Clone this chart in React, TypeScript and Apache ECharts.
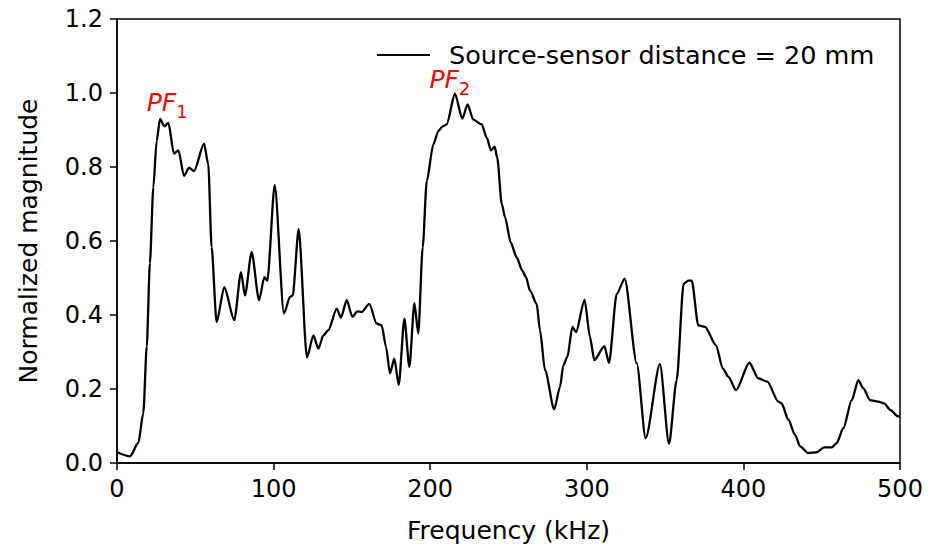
import React, { useEffect, useRef } from "react";
import * as echarts from "echarts";

const frequency: number[] = [
  0, 8.3, 13.6, 16.8, 19, 21, 23.2, 25.3, 27.5, 30.2, 32.8, 36.4, 39.2, 42.8, 46, 49.2, 55.6, 58.3, 60.4, 63.6,
  68.5, 74.9, 79.2, 81.7, 86, 90.7, 94.1, 96, 100.7, 106.6, 110.5, 112.2, 116, 121.3, 125.4, 128.6, 131.8, 135,
  140.3, 143, 146.7, 150.3, 153.5, 156.3, 161.1, 165.8, 169, 171.8, 174.3, 177.1, 179.9, 183.5, 186.7, 189.9,
  192.4, 195.2, 197.8, 202, 205.2, 208, 210.5, 215.8, 220.5, 223.9, 227.5, 232.9, 236.1, 238.8, 241.2, 242.8,
  245.7, 247.8, 251.4, 255.2, 258.8, 261.2, 263.7, 268, 270.1, 273.3, 279.2, 282.9, 285, 287.6, 290.8, 293.1,
  298.6, 302, 304.8, 311.2, 314.2, 319.1, 324.2, 331.9, 337.6, 346.7, 352.5, 357.4, 361.8, 364.8, 367, 371.2,
  375.5, 382.5, 386.8, 390.4, 395.3, 403.8, 409.5, 415.3, 422.3, 424.4, 428.7, 433, 436.2, 441.4, 446.8, 451.5,
  456.4, 459.6, 463.8, 469.2, 473.4, 476.6, 480.8, 486.1, 489.8, 494, 498.3, 500,
];

const magnitude: number[] = [
  0.029, 0.018, 0.054, 0.135, 0.315, 0.54, 0.745, 0.87, 0.93, 0.91, 0.919, 0.836, 0.845, 0.776, 0.798, 0.789,
  0.863, 0.807, 0.584, 0.381, 0.475, 0.386, 0.516, 0.453, 0.57, 0.44, 0.502, 0.493, 0.751, 0.404, 0.449, 0.453,
  0.632, 0.285, 0.345, 0.309, 0.345, 0.359, 0.417, 0.393, 0.44, 0.395, 0.41, 0.408, 0.43, 0.377, 0.372, 0.314,
  0.242, 0.282, 0.211, 0.39, 0.26, 0.432, 0.35, 0.583, 0.762, 0.861, 0.897, 0.91, 0.915, 0.998, 0.931, 0.969,
  0.928, 0.915, 0.879, 0.845, 0.855, 0.825, 0.7, 0.664, 0.596, 0.556, 0.52, 0.502, 0.466, 0.43, 0.359, 0.251,
  0.145, 0.206, 0.264, 0.287, 0.368, 0.354, 0.441, 0.341, 0.278, 0.316, 0.271, 0.457, 0.498, 0.269, 0.067,
  0.267, 0.052, 0.224, 0.484, 0.493, 0.493, 0.372, 0.368, 0.318, 0.256, 0.233, 0.197, 0.271, 0.229, 0.22, 0.166,
  0.161, 0.117, 0.076, 0.045, 0.027, 0.029, 0.042, 0.042, 0.054, 0.094, 0.17, 0.224, 0.202, 0.17, 0.166, 0.161,
  0.143, 0.127, 0.125,
];

const seriesName = "Source-sensor distance = 20 mm";
const peakLabels = [
  { sub: "1", freq: 19, mag: 0.974 },
  { sub: "2", freq: 199.5, mag: 1.036 },
];

const FONT = "DejaVu Sans";
const FS = 25;
const TICK_FS = 24;

export default function App() {
  const ref = useRef<HTMLDivElement>(null);
  useEffect(() => {
    if (!ref.current) return;
    const chart = echarts.init(ref.current, null, { renderer: "svg" });
    const data = frequency.map((f, i) => [f, magnitude[i]]);
    chart.setOption({
      animation: false,
      backgroundColor: "#ffffff",
      textStyle: { fontFamily: FONT },
      grid: {
        left: 117,
        right: 31,
        top: 19,
        bottom: 83,
        show: true,
        borderColor: "#000",
        borderWidth: 1.5,
        containLabel: false,
      },
      legend: {
        left: 372,
        top: 37,
        data: [seriesName],
        icon: "rect",
        itemWidth: 53,
        itemHeight: 2,
        textStyle: { fontFamily: FONT, fontSize: 25.5, color: "#000", padding: [0, 0, 0, 14] },
      },
      xAxis: {
        type: "value",
        min: 0,
        max: 500,
        interval: 100,
        name: "Frequency (kHz)",
        nameLocation: "middle",
        nameGap: 55,
        nameTextStyle: { fontFamily: FONT, fontSize: FS, color: "#000" },
        axisLine: { show: true, onZero: false, lineStyle: { color: "#000", width: 1.5 } },
        axisTick: { show: true, inside: false, length: 7, lineStyle: { color: "#000", width: 1.5 } },
        axisLabel: { fontFamily: FONT, fontSize: TICK_FS, color: "#000", margin: 14 },
        splitLine: { show: false },
      },
      yAxis: {
        type: "value",
        min: 0,
        max: 1.2,
        interval: 0.2,
        name: "Normalized magnitude",
        nameLocation: "middle",
        nameGap: 76,
        nameTextStyle: { fontFamily: FONT, fontSize: FS, color: "#000" },
        axisLine: { show: true, lineStyle: { color: "#000", width: 1.5 } },
        axisTick: { show: true, inside: false, length: 7, lineStyle: { color: "#000", width: 1.5 } },
        axisLabel: {
          fontFamily: FONT,
          fontSize: TICK_FS,
          color: "#000",
          margin: 14,
          formatter: (v: number) => v.toFixed(1),
        },
        splitLine: { show: false },
      },
      series: [
        {
          name: seriesName,
          type: "line",
          data,
          showSymbol: false,
          smooth: 0.25,
          smoothMonotone: "x",
          lineStyle: { color: "#000", width: 2.3 },
          itemStyle: { color: "#000" },
          markPoint: {
            symbol: "circle",
            symbolSize: 0,
            data: peakLabels.map((p) => ({
              coord: [p.freq, p.mag],
              label: {
                show: true,
                position: "right",
                distance: 0,
                formatter: `{i|PF}{s|${p.sub}}`,
                rich: {
                  i: { fontFamily: FONT, fontSize: FS, fontStyle: "italic", color: "#ff0000", lineHeight: 36, verticalAlign: "middle" },
                  s: { fontFamily: FONT, fontSize: 18, color: "#ff0000", lineHeight: 36, verticalAlign: "bottom" },
                },
              },
            })),
          },
        },
      ],
    });
    return () => chart.dispose();
  }, []);
  return (
    <div
      ref={ref}
      style={{ position: "fixed", left: 0, top: 0, width: 931, height: 548, overflow: "hidden", background: "#fff" }}
    />
  );
}
